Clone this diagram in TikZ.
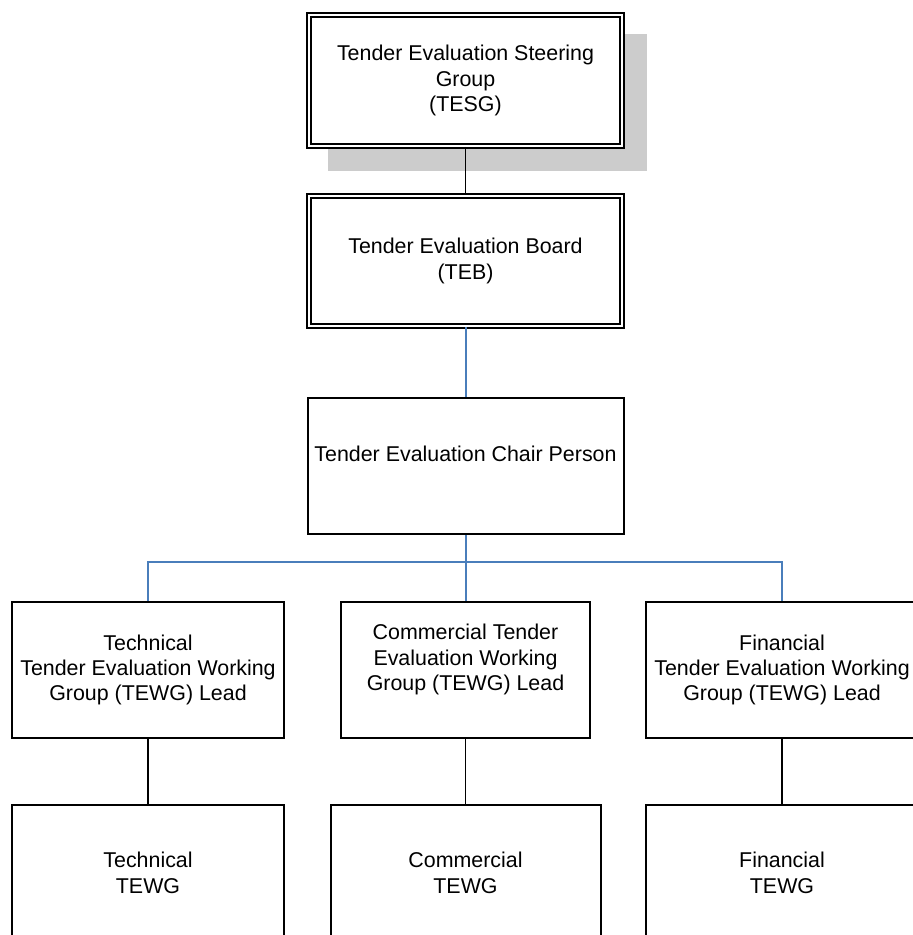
\documentclass[tikz,border=0pt]{standalone}
\usepackage{fontspec}
\setmainfont{Liberation Sans}
\definecolor{linkblue}{HTML}{4A7EBB}
\tikzset{
  box/.style={draw, line width=1pt, fill=white, align=center, inner sep=0pt,
    font=\fontsize{10.7}{12.7}\selectfont},
  dbox/.style={box, line width=0.8pt, double, double distance=1.2pt},
  bluelink/.style={draw=linkblue, line width=1pt},
  blacklink/.style={draw=black, line width=0.75pt}
}
\begin{document}
\begin{tikzpicture}[x=0.5pt,y=-0.5pt]
\useasboundingbox (0,0) rectangle (912,935);
\fill[gray!40] (328,34) rectangle (647,171);
\node[dbox, minimum width=156.5pt, minimum height=65.5pt] (tesg) at (465.5,80.5) {Tender Evaluation Steering\\Group\\(TESG)};
\node[dbox, minimum width=156.5pt, minimum height=65pt] (teb) at (465.5,261) {Tender Evaluation Board\\(TEB)};
\node[box, minimum width=158pt, minimum height=68pt] (chair) at (465.5,466) {Tender Evaluation Chair Person\\ \mbox{}};
% working group leads
\node[box, minimum width=136pt, minimum height=68pt] (techlead) at (148,670) {Technical\\Tender Evaluation Working\\Group (TEWG) Lead};
\node[box, minimum width=124.5pt, minimum height=68pt] (commlead) at (465.5,670) {Commercial Tender\\Evaluation Working\\Group (TEWG) Lead\\ \mbox{}};
\node[box, minimum width=136pt, minimum height=68pt] (finlead) at (782,670) {Financial\\Tender Evaluation Working\\Group (TEWG) Lead};
% working groups
\node[box, minimum width=136pt, minimum height=68pt] (techwg) at (148,873) {Technical\\TEWG};
\node[box, minimum width=135pt, minimum height=68pt] (commwg) at (465.5,873) {Commercial\\TEWG};
\node[box, minimum width=136pt, minimum height=68pt] (finwg) at (782,873) {Financial\\TEWG};
% connectors
\coordinate (bus) at (465.5,562);
\draw[blacklink] (tesg) -- (teb);
\draw[bluelink] (teb) -- (chair);
\draw[bluelink] (chair) -- (bus) -- (commlead);
\draw[bluelink] (techlead.north) |- (bus) -| (finlead.north);
\draw[blacklink] (techlead) -- (techwg);
\draw[blacklink] (commlead) -- (commwg);
\draw[blacklink] (finlead) -- (finwg);
\end{tikzpicture}
\end{document}
